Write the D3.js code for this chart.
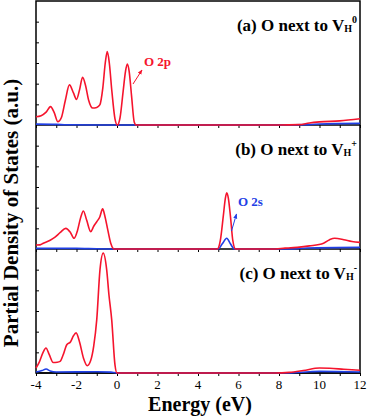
<!DOCTYPE html>
<meta charset="utf-8">
<style>
  body { margin: 0; background: #fff; }
  svg { display: block; font-family: "Liberation Serif", "Times New Roman", serif; }
</style>
<svg width="370" height="417"></svg>
<script src="https://d3js.org/d3.v7.min.js"></script>
<script>

// energy ticks (eV)
var xTicks = [-4, -2, 0, 2, 4, 6, 8, 10, 12];

// panel titles
var panelTitles = [
  {pre: "(a) O next to V", sub: "H", sup: "0"},
  {pre: "(b) O next to V", sub: "H", sup: "+"},
  {pre: "(c) O next to V", sub: "H", sup: "-"}
];

// (a) O next to VH0  : [energy, pdos]
var redA = [[-4,0.40],[-3.75,0.45],[-3.5,0.62],[-3.28,0.89],[-3.1,0.6],[-2.92,0.16],[-2.75,0.35],
  [-2.55,1.2],[-2.35,1.94],[-2.15,1.55],[-2.0,1.24],[-1.85,1.7],[-1.7,2.31],[-1.55,1.9],[-1.4,1.2],
  [-1.2,0.82],[-1.0,0.85],[-0.85,0.97],[-0.7,1.8],[-0.58,3.0],[-0.48,3.55],[-0.38,3.0],[-0.25,1.6],
  [-0.1,0.3],[0.02,0.0],[0.15,0.35],[0.3,1.6],[0.42,2.6],[0.51,2.95],[0.6,2.6],[0.72,1.4],[0.85,0.15],
  [0.95,0],[8.0,0],[9.0,0.02],[9.5,0.1],[10,0.15],[11,0.2],[12,0.3]];
var blueA = [[-4,0.04],[-3,0.03],[-2.5,0.01],[-1,0],[0,0],[1,0],[8,0],[9.5,0.02],[10,0.05],[12,0.08]];

// (b) O next to VH+
var redB = [[-4,0.19],[-3.8,0.2],[-3.64,0.28],[-3.3,0.42],[-3.06,0.57],[-2.8,0.8],[-2.53,1.0],[-2.3,0.8],
  [-2.12,0.52],[-1.95,0.9],[-1.8,1.5],[-1.66,1.84],[-1.5,1.4],[-1.3,0.84],[-1.15,1.1],[-1.0,1.32],
  [-0.85,1.55],[-0.71,1.94],[-0.6,1.6],[-0.45,0.9],[-0.3,0.25],[-0.15,0],[4.95,0],[5.1,0.4],[5.25,1.6],
  [5.35,2.45],[5.42,2.72],[5.5,2.45],[5.6,1.6],[5.72,0.4],[5.85,0],[7.6,0],[8.3,0.04],[8.9,0.08],
  [9.5,0.15],[10.2,0.28],[10.5,0.45],[10.75,0.52],[11.2,0.45],[11.6,0.36],[12,0.32]];
var blueB = [[-4,0.03],[-2,0.03],[-1,0.01],[0,0],[5.0,0],[5.2,0.25],[5.42,0.52],[5.6,0.25],[5.8,0],
  [8.5,0],[9.4,0.05],[12,0.08]];

// (c) O next to VH-
var redC = [[-4,0.24],[-3.85,0.5],[-3.65,1.0],[-3.51,1.21],[-3.35,0.9],[-3.15,0.51],[-2.95,0.52],
  [-2.81,0.56],[-2.65,0.9],[-2.48,1.37],[-2.3,1.5],[-2.15,1.8],[-2.02,1.94],[-1.85,1.5],[-1.65,0.7],
  [-1.47,0.35],[-1.3,0.6],[-1.15,1.3],[-1.0,2.58],[-0.84,5.0],[-0.68,5.8],[-0.51,5.0],[-0.4,3.8],
  [-0.26,2.56],[-0.1,0.39],[0,0],[7.8,0],[8.5,0.03],[9.2,0.12],[10.0,0.24],[10.5,0.23],[11.2,0.18],[12,0.13]];
var blueC = [[-4,0.05],[-3.7,0.12],[-3.5,0.19],[-3.3,0.1],[-3,0.05],[-1,0.06],[-0.3,0.04],[0,0],
  [8.5,0],[9.5,0.06],[10,0.08],[12,0.05]];

var panels = [
  {red: redA, blue: blueA},
  {red: redB, blue: blueB},
  {red: redC, blue: blueC}
];

var RED = "#f5142d", BLUE = "#1f3fe6";

var svg = d3.select("svg");
var left = 36, right = 360, top0 = 1, ph = 124;

var x = d3.scaleLinear().domain([-4, 12]).range([left, right]);

var defs = svg.append("defs");
[["arrRed", RED], ["arrBlue", BLUE]].forEach(function(a) {
  defs.append("marker").attr("id", a[0]).attr("viewBox", "0 0 10 10")
    .attr("refX", 9).attr("refY", 5).attr("markerWidth", 5).attr("markerHeight", 5)
    .attr("orient", "auto")
    .append("path").attr("d", "M0,1L10,5L0,9z").attr("fill", a[1]);
});

// frame first so the curves sit on top of the axis lines
svg.append("rect").attr("x", left).attr("y", top0).attr("width", right - left).attr("height", ph * 3)
  .attr("fill", "none").attr("stroke", "#000").attr("stroke-width", 1.5);

panels.forEach(function(p, i) {
  var t = top0 + i * ph, b = t + ph;
  var y = d3.scaleLinear().domain([0, 6]).range([b, t]);
  var g = svg.append("g");

  // x ticks below each panel, every 1 eV
  g.append("g").attr("transform", "translate(0," + b + ")")
    .call(d3.axisBottom(x).tickValues(d3.range(-4, 13, 1)).tickSize(3).tickFormat(""))
    .call(a => a.select(".domain").remove());

  // y ticks inward on left
  g.append("g").attr("transform", "translate(" + left + ",0)")
    .call(d3.axisRight(y).tickValues([1, 2, 3, 4, 5]).tickSize(3).tickFormat(""))
    .call(a => a.select(".domain").remove());

  g.append("line").attr("x1", left).attr("x2", right).attr("y1", b).attr("y2", b)
    .attr("stroke", "#000").attr("stroke-width", 1.3);

  var line = d3.line().x(d => x(d[0])).y(d => y(d[1])).curve(d3.curveMonotoneX);

  g.append("path").datum(p.blue).attr("d", line)
    .attr("fill", "none").attr("stroke", BLUE).attr("stroke-width", 1.6);
  g.append("path").datum(p.red).attr("d", line)
    .attr("fill", "none").attr("stroke", RED).attr("stroke-width", 1.6);

  var pt = panelTitles[i];
  var txt = g.append("text").attr("x", 357).attr("y", t + 30)
    .attr("text-anchor", "end").attr("font-weight", "bold").attr("font-size", 17);
  txt.append("tspan").text(pt.pre);
  txt.append("tspan").attr("font-size", 10).attr("dy", 1).text(pt.sub);
  txt.append("tspan").attr("font-size", 10).attr("dy", -9).text(pt.sup);
});

svg.selectAll(".tick line").attr("stroke", "#000");

// tick labels on the bottom axis
svg.append("g").selectAll("text").data(xTicks).join("text")
  .attr("x", d => x(d)).attr("y", 389).attr("text-anchor", "middle")
  .attr("font-size", 13).text(d => d);

// peak annotations
svg.append("line").attr("x1", 133).attr("y1", 84).attr("x2", 142).attr("y2", 70)
  .attr("stroke", RED).attr("stroke-width", 1).attr("marker-end", "url(#arrRed)");
svg.append("text").attr("x", 144).attr("y", 66).attr("fill", RED)
  .attr("font-weight", "bold").attr("font-size", 13).text("O 2p");

svg.append("line").attr("x1", 231.5).attr("y1", 231).attr("x2", 236.5).attr("y2", 214)
  .attr("stroke", BLUE).attr("stroke-width", 1).attr("marker-end", "url(#arrBlue)");
svg.append("text").attr("x", 238).attr("y", 206).attr("fill", BLUE)
  .attr("font-weight", "bold").attr("font-size", 13).text("O 2s");

// axis titles
svg.append("text").attr("x", 200).attr("y", 411).attr("text-anchor", "middle")
  .attr("font-weight", "bold").attr("font-size", 20).text("Energy (eV)");
svg.append("text").attr("transform", "translate(18,213) rotate(-90)").attr("text-anchor", "middle")
  .attr("font-weight", "bold").attr("font-size", 21).text("Partial Density of States (a.u.)");

</script>
